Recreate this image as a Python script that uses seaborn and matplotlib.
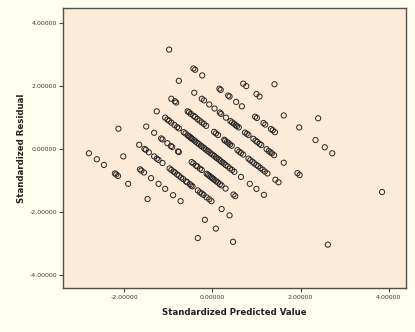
import numpy as np
import pandas as pd
import matplotlib
matplotlib.use("Agg")
import matplotlib.pyplot as plt
import seaborn as sns

# Standardized predicted values (x) and standardized residuals (y)
pred = [
    # lowest residual band
    -2.80, -2.62, -2.46, -2.21, -2.18, -2.14, -1.91, -1.47, -0.33,
    # band 2
    -2.02, -1.64, -1.61, -1.55, -1.39, -1.22, -1.07, -0.89, -0.72, -0.17, 0.08, 0.47,
    # band 3
    -2.13, -1.66, -1.54, -1.51, -1.44, -1.32, -1.26, -1.22, -1.13, -0.97, -0.93, -0.88,
    -0.85, -0.80, -0.76, -0.71, -0.66, -0.60, -0.57, -0.51, -0.48, -0.45, -0.33, -0.28,
    -0.24, -0.20, -0.13, -0.07, -0.02, 0.21, 0.39,
    # band 4
    -1.50, -1.32, -1.16, -1.13, -1.02, -0.94, -0.91, -0.78, -0.76, -0.47, -0.43, -0.37,
    -0.34, -0.28, -0.24, -0.13, -0.10, -0.07, -0.04, -0.01, 0.02, 0.05, 0.09, 0.13,
    0.17, 0.21, 0.30, 0.48, 0.52,
    # band 5
    -1.26, -1.07, -1.02, -0.98, -0.93, -0.86, -0.80, -0.76, -0.65, -0.61, -0.56, -0.53,
    -0.50, -0.48, -0.45, -0.41, -0.38, -0.34, -0.30, -0.26, -0.23, -0.19, -0.15, -0.11,
    -0.08, -0.04, 0.00, 0.04, 0.08, 0.11, 0.15, 0.19, 0.23, 0.26, 0.30, 0.35,
    0.40, 0.45, 0.50, 0.65, 0.85, 1.00, 1.17, 2.62,
    # band 6
    -0.93, -0.85, -0.82, -0.56, -0.53, -0.49, -0.43, -0.39, -0.34, -0.29, -0.24, -0.19,
    -0.14, 0.04, 0.08, 0.13, 0.27, 0.29, 0.33, 0.37, 0.40, 0.44, 0.57, 0.61,
    0.65, 0.70, 0.82, 0.86, 0.91, 0.95, 1.00, 1.04, 1.09, 1.14, 1.19, 1.25, 1.43, 1.50,
    # band 7
    -0.76, -0.41, -0.24, -0.19, -0.07, 0.05, 0.17, 0.20, 0.31, 0.41, 0.45, 0.49,
    0.53, 0.56, 0.60, 0.74, 0.78, 0.82, 0.93, 0.98, 1.02, 1.07, 1.11, 1.23,
    1.28, 1.32, 1.35, 1.40, 1.62, 1.93, 1.98,
    # band 8
    -0.98, -0.43, -0.39, -0.23, 0.16, 0.19, 0.36, 0.39, 0.54, 0.67, 0.97, 1.01,
    1.16, 1.20, 1.33, 1.37, 1.42,
    # band 9
    0.70, 0.77, 1.00, 1.07, 1.62, 1.97, 2.34, 2.55, 2.72, 3.85,
    # band 10
    1.41, 2.40,
]

resid = [
    -0.14, -0.33, -0.51, -0.78, -0.81, -0.86, -1.11, -1.59, -2.83,
    -0.24, -0.65, -0.69, -0.75, -0.93, -1.11, -1.27, -1.47, -1.66, -2.25, -2.53, -2.95,
    0.64, 0.13, 0.00, -0.03, -0.11, -0.24, -0.31, -0.35, -0.45, -0.62, -0.67, -0.72,
    -0.75, -0.81, -0.85, -0.91, -0.96, -1.03, -1.06, -1.12, -1.16, -1.19, -1.32, -1.38,
    -1.42, -1.46, -1.54, -1.60, -1.66, -1.91, -2.11,
    0.71, 0.51, 0.33, 0.30, 0.18, 0.09, 0.06, -0.08, -0.10, -0.42, -0.46, -0.53,
    -0.56, -0.63, -0.67, -0.79, -0.82, -0.85, -0.89, -0.92, -0.95, -0.99, -1.03, -1.07,
    -1.12, -1.16, -1.26, -1.45, -1.50,
    1.19, 0.99, 0.93, 0.89, 0.83, 0.76, 0.69, 0.65, 0.53, 0.49, 0.43, 0.40,
    0.37, 0.34, 0.31, 0.27, 0.23, 0.19, 0.15, 0.10, 0.07, 0.03, -0.02, -0.06,
    -0.09, -0.14, -0.18, -0.22, -0.27, -0.30, -0.34, -0.39, -0.43, -0.46, -0.51, -0.56,
    -0.62, -0.67, -0.73, -0.89, -1.11, -1.27, -1.46, -3.04,
    1.59, 1.51, 1.47, 1.19, 1.16, 1.11, 1.05, 1.01, 0.95, 0.90, 0.84, 0.79,
    0.73, 0.54, 0.49, 0.44, 0.29, 0.26, 0.22, 0.18, 0.14, 0.10, -0.04, -0.09,
    -0.13, -0.18, -0.31, -0.36, -0.41, -0.46, -0.51, -0.55, -0.61, -0.66, -0.72, -0.78, -0.98, -1.06,
    2.16, 1.78, 1.59, 1.54, 1.41, 1.28, 1.15, 1.11, 0.99, 0.88, 0.84, 0.80,
    0.75, 0.72, 0.68, 0.52, 0.48, 0.44, 0.32, 0.26, 0.22, 0.16, 0.12, -0.01,
    -0.07, -0.11, -0.14, -0.20, -0.44, -0.77, -0.83,
    3.15, 2.55, 2.51, 2.33, 1.91, 1.87, 1.69, 1.66, 1.49, 1.35, 1.02, 0.98,
    0.82, 0.77, 0.63, 0.59, 0.53,
    2.07, 1.99, 1.74, 1.66, 1.06, 0.68, 0.28, 0.05, -0.14, -1.37,
    2.05, 0.97,
]

x_ticks = [-2.0, 0.0, 2.0, 4.0]
y_ticks = [-4.0, -2.0, 0.0, 2.0, 4.0]

df = pd.DataFrame({"Standardized Predicted Value": pred,
                   "Standardized Residual": resid})

sns.set_style("ticks")
plt.rcParams["font.family"] = ["DejaVu Sans"]

fig = plt.figure(figsize=(4.15, 3.32), dpi=100, facecolor="#FEFDEE")
ax = fig.add_axes([0.152, 0.133, 0.826, 0.842])
ax.set_facecolor("#FCEBD9")

sns.scatterplot(data=df, x="Standardized Predicted Value", y="Standardized Residual",
                ax=ax, marker="o", s=14, facecolor="none", edgecolor="#2a2420",
                linewidth=0.7, legend=False)

ax.set_xlim(-3.386, 4.39)
ax.set_ylim(-4.41, 4.46)
ax.set_xticks(x_ticks)
ax.set_yticks(y_ticks)
ax.set_xticklabels([f"{v:.5f}" for v in x_ticks], fontsize=4.5, color="#3a3a3a")
ax.set_yticklabels([f"{v:.5f}" for v in y_ticks], fontsize=4.5, color="#3a3a3a")
ax.tick_params(axis="x", direction="out", length=3, width=0.8, color="#444444", pad=2.5)
ax.tick_params(axis="y", direction="out", length=3, width=0.8, color="#444444", pad=1.5)

for side in ["left", "right", "top", "bottom"]:
    ax.spines[side].set_visible(True)
    ax.spines[side].set_color("#555047")
    ax.spines[side].set_linewidth(1.0)

ax.set_xlabel("Standardized Predicted Value", fontsize=6.2, fontweight="bold",
              color="#222222")
ax.set_ylabel("Standardized Residual", fontsize=6.2, fontweight="bold",
              color="#222222")
ax.xaxis.set_label_coords(0.5, -0.073)
ax.yaxis.set_label_coords(-0.108, 0.5)

fig.savefig("out.png", dpi=100, facecolor=fig.get_facecolor())
